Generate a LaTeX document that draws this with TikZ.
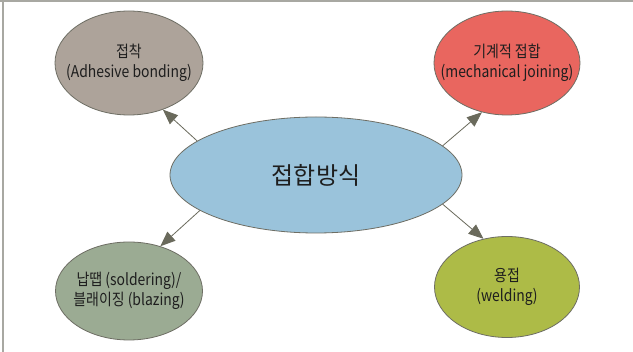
\documentclass[tikz,border=0pt]{standalone}
\usepackage{fontspec}
\setmainfont{Noto Sans CJK KR}[FakeStretch=0.86]
\newfontfamily\bigkr{Noto Sans CJK KR}
\usetikzlibrary{shapes.geometric,arrows.meta}
\definecolor{cBrown}{HTML}{ADA39A}
\definecolor{cRed}{HTML}{E9665F}
\definecolor{cGreen}{HTML}{9BAB93}
\definecolor{cOlive}{HTML}{ADBB47}
\definecolor{cBlue}{HTML}{9AC3DB}
\definecolor{cEdge}{HTML}{6E6E64}
\definecolor{cArrow}{HTML}{6A6A5C}
\definecolor{cFrame}{HTML}{A8A8A2}
\definecolor{cText}{HTML}{1E1E1E}
\tikzset{
  bubble/.style={ellipse, draw=cEdge, line width=0.8pt, inner sep=0pt},
  bubbletext/.style={text=cText, align=center, inner sep=0pt,
    font=\fontsize{16.2}{20.5}\selectfont},
  link/.style={draw=cArrow, line width=0.8pt,
    -{Triangle[length=15pt,width=12pt]}, shorten >=0pt}
}
\begin{document}
\begin{tikzpicture}[x=1pt,y=-1pt]
\useasboundingbox (0,0) rectangle (633,352);
\fill[white] (0,0) rectangle (633,352);
\draw[cFrame, line width=2pt] (0,1) -- (633,1);
\draw[cFrame, line width=2pt] (3,0) -- (3,352);
\node[bubble, fill=cBlue, minimum width=292pt, minimum height=116pt,
  label={[text=cText, font=\bigkr\fontsize{24}{28}\selectfont]center:접합방식}] (c) at (316,175) {};
\node[bubble, fill=cBrown, minimum width=148pt, minimum height=104pt,
  label={[bubbletext]center:접착\\(Adhesive bonding)}] (a) at (129,63) {};
\node[bubble, fill=cRed, minimum width=146pt, minimum height=104pt,
  label={[bubbletext]center:기계적 접합\\(mechanical joining)}] (m) at (507,63) {};
\node[bubble, fill=cGreen, minimum width=147pt, minimum height=98pt,
  label={[bubbletext]center:납땝 (soldering)/\\블래이징 (blazing)}] (s) at (129,291) {};
\node[bubble, fill=cOlive, minimum width=145pt, minimum height=101pt,
  label={[bubbletext]center:용접\\(welding)}] (w) at (507,287) {};
\draw[link] (c.164.5) -- (a.306);
\draw[link] (c.13.3) -- (m.243);
\draw[link] (c.197) -- (s.55);
\draw[link] (c.347.6) -- (w.116.6);
\end{tikzpicture}
\end{document}
